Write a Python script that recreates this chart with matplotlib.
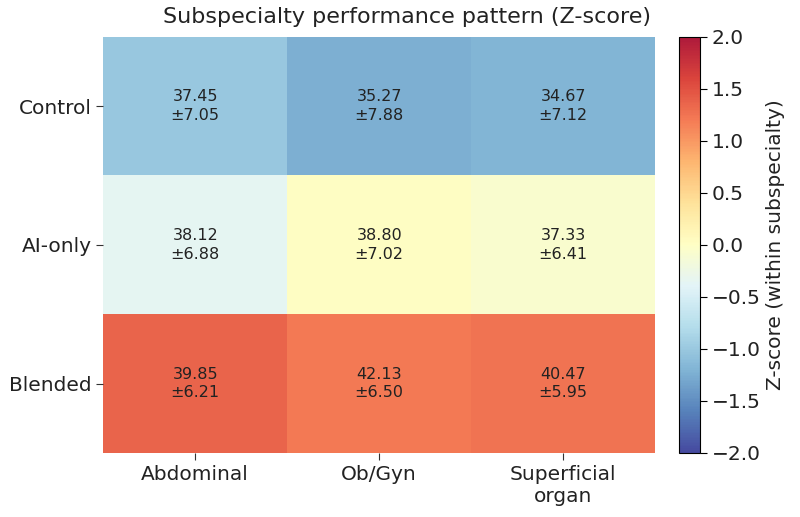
import numpy as np
import matplotlib
matplotlib.use("Agg")
import matplotlib.pyplot as plt

groups = ["Control", "AI-only", "Blended"]
subspecialties = ["Abdominal", "Ob/Gyn", "Superficial\norgan"]
means = np.array([[37.45, 35.27, 34.67],
                  [38.12, 38.80, 37.33],
                  [39.85, 42.13, 40.47]])
sds = np.array([[7.05, 7.88, 7.12],
                [6.88, 7.02, 6.41],
                [6.21, 6.50, 5.95]])

z = (means - means.mean(axis=0)) / means.std(axis=0, ddof=0)

fig = plt.figure(figsize=(8, 5.17), dpi=100)
ax = fig.add_axes([0.129, 0.124, 0.69, 0.805])
cax = fig.add_axes([0.849, 0.124, 0.026, 0.805])

im = ax.imshow(z, cmap="RdYlBu_r", vmin=-2, vmax=2, aspect="auto", alpha=0.9)
for i in range(len(groups)):
    for j in range(len(subspecialties)):
        ax.text(j, i, f"{means[i, j]:.2f}\n±{sds[i, j]:.2f}", ha="center", va="center",
                fontsize=11.5, color="#222222", linespacing=1.3)
ax.set_xticks(range(len(subspecialties)))
ax.set_xticklabels(subspecialties, fontsize=14.5, color="#222222")
ax.set_yticks(range(len(groups)))
ax.set_yticklabels(groups, fontsize=14.5, color="#222222")
ax.tick_params(length=5, color="#333333")
for s in ax.spines.values():
    s.set_visible(False)
fig.suptitle("Subspecialty performance pattern (Z-score)", fontsize=16, x=0.509, y=0.987,
             va="top", color="#222222")

cb = fig.colorbar(im, cax=cax)
cb.set_label("Z-score (within subspecialty)", fontsize=14.5, color="#222222")
cb.ax.tick_params(labelsize=14.5, length=5, labelcolor="#222222")
cb.set_ticks(np.arange(-2, 2.01, 0.5))

fig.savefig("out.png", dpi=100)
